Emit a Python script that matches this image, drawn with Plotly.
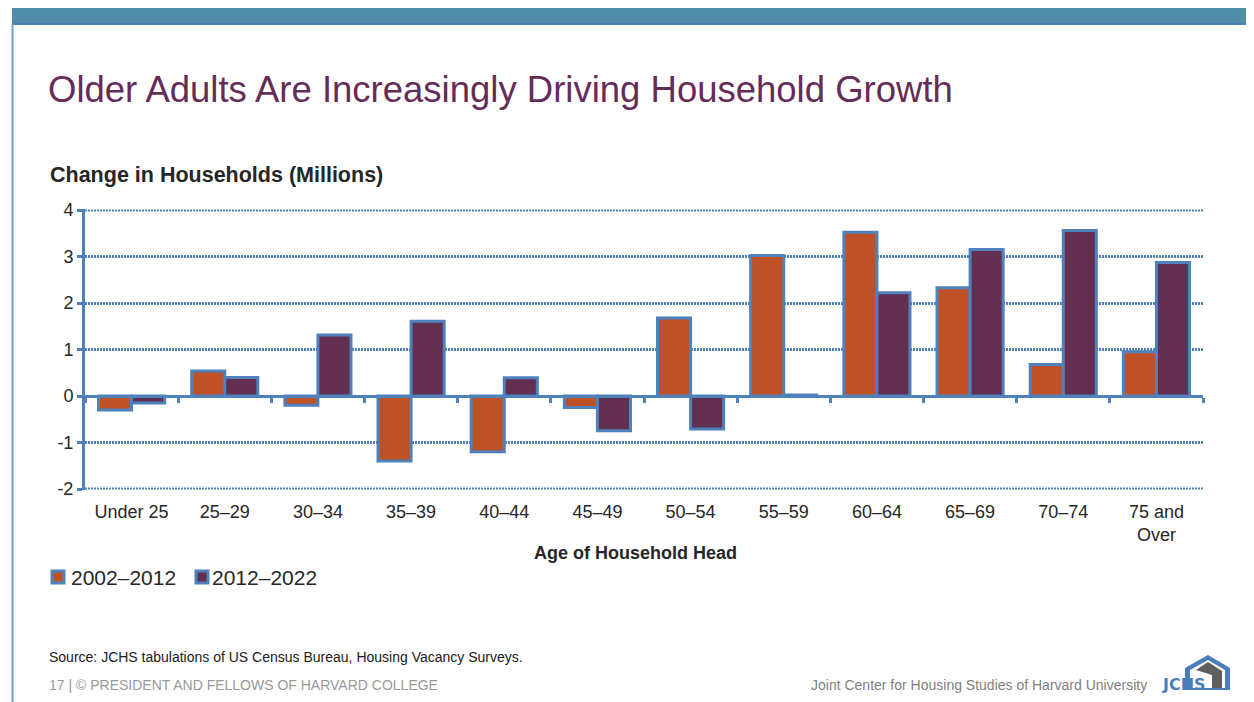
import plotly.graph_objects as go

W, H = 1254, 702
OFF = 8  # page offset of the figure in the browser

categories = ["Under 25", "25–29", "30–34", "35–39", "40–44", "45–49",
              "50–54", "55–59", "60–64", "65–69", "70–74", "75 and<br>Over"]
series_names = ["2002–2012", "2012–2022"]
values_2002_2012 = [-0.30, 0.54, -0.20, -1.40, -1.20, -0.25, 1.68, 3.02, 3.52, 2.33, 0.68, 0.95]
values_2012_2022 = [-0.15, 0.40, 1.31, 1.61, 0.39, -0.75, -0.71, 0.02, 2.22, 3.15, 3.56, 2.87]
y_ticks = [-2, -1, 0, 1, 2, 3, 4]
y_tick_text = ["-2", "-1", "0", "1", "2", "3", "4"]

ORANGE = "#BF5127"
PURPLE = "#632F50"
BLUE = "#4F81BD"
TXT = "#262626"
FONT = "Liberation Sans, Arial, sans-serif"


def px(x):
    return (x - OFF) / W


def py(y):
    return 1 - (y - OFF) / H


eps = 0.012
y_range = [-2 - eps, 4 + eps]
unit = (489 - 210) / 6.0
x_dom = [px(85), px(1203)]
y_dom = [py(489 + eps * unit), py(210 - eps * unit)]
zero_pos = y_dom[0] + (0 - y_range[0]) / (y_range[1] - y_range[0]) * (y_dom[1] - y_dom[0])

fig = go.Figure()
for name, vals, col in [(series_names[0], values_2002_2012, ORANGE),
                        (series_names[1], values_2012_2022, PURPLE)]:
    fig.add_trace(go.Bar(x=categories, y=vals, name=name,
                         marker=dict(color=col, line=dict(color=BLUE, width=3)),
                         showlegend=False))

# helper trace carrying the zero-line axis with boundary ticks
fig.add_trace(go.Scatter(x=categories, y=[None] * len(categories), xaxis="x2",
                         showlegend=False, hoverinfo="skip", mode="markers"))

GRID_W = 3
GRID_DASH = "2px,1px"

fig.update_layout(
    width=W, height=H,
    margin=dict(l=0, r=0, t=0, b=0, autoexpand=False),
    showlegend=False,
    paper_bgcolor="white", plot_bgcolor="white",
    barmode="group", bargap=0.29, bargroupgap=0,
    font=dict(family=FONT, color=TXT),
    xaxis=dict(domain=x_dom, anchor="y", showline=False, ticks="",
               showgrid=False, zeroline=False, automargin=False,
               range=[-0.5, len(categories) - 0.5], ticklabelstandoff=9,
               tickfont=dict(size=18, color=TXT, family=FONT),
               categoryorder="array", categoryarray=categories),
    xaxis2=dict(domain=x_dom, overlaying="x", anchor="free", position=zero_pos,
                showline=True, linecolor=BLUE, linewidth=3,
                ticks="outside", tickson="boundaries", ticklen=5,
                tickcolor=BLUE, tickwidth=3, showticklabels=False,
                showgrid=False, zeroline=False, automargin=False,
                categoryorder="array", categoryarray=categories,
                range=[-0.5, len(categories) - 0.5]),
    yaxis=dict(domain=y_dom, range=y_range, tickvals=y_ticks, ticktext=y_tick_text,
               showline=True, linecolor=BLUE, linewidth=3, automargin=False,
               ticks="outside", ticklen=5, tickcolor=BLUE, tickwidth=3,
               showgrid=True, gridcolor=BLUE, gridwidth=GRID_W, griddash=GRID_DASH,
               zeroline=True, zerolinecolor=BLUE, zerolinewidth=3,
               tickfont=dict(size=18, color=TXT, family=FONT)),
)

shapes = []
# gridlines at the axis extremes (plotly hides those at the plot edges)
for v in (y_ticks[0], y_ticks[-1]):
    shapes.append(dict(type="line", xref="x domain", yref="y", x0=0, x1=1, y0=v, y1=v,
                       line=dict(color=BLUE, width=GRID_W, dash=GRID_DASH), layer="below"))

# top banner
shapes.append(dict(type="rect", xref="paper", yref="paper",
                   x0=px(12), x1=px(1262), y0=py(24), y1=py(7),
                   fillcolor="#508DA6", line=dict(width=0)))
shapes.append(dict(type="line", xref="paper", yref="paper",
                   x0=px(12), x1=px(1262), y0=py(24), y1=py(24),
                   line=dict(color="#4A7EBB", width=2)))
# left vertical rule
shapes.append(dict(type="line", xref="paper", yref="paper",
                   x0=px(12.5), x1=px(12.5), y0=py(24), y1=py(710),
                   line=dict(color="#6F9CD4", width=2)))

# legend (manual)
legend_items = [(52, 72, series_names[0], ORANGE), (196, 213, series_names[1], PURPLE)]
annotations = []
for sx, tx, label, col in legend_items:
    shapes.append(dict(type="rect", xref="paper", yref="paper",
                       x0=px(sx), x1=px(sx + 12), y0=py(583), y1=py(571),
                       fillcolor=col, line=dict(color=BLUE, width=3)))
    annotations.append(dict(text=label, xref="paper", yref="paper", x=px(tx - 3), y=py(577),
                            xanchor="left", yanchor="middle", showarrow=False,
                            font=dict(size=21, color=TXT, family=FONT)))


def poly(points):
    return "M " + " L ".join("{} {}".format(px(a), py(b)) for a, b in points) + " Z"


# logo (JCHS house)
shapes.append(dict(type="path", xref="paper", yref="paper",
                   path=poly([(1185, 690), (1185, 668), (1208, 655), (1230, 668), (1230, 690)]),
                   fillcolor="#4A7EBB", line=dict(width=0)))
shapes.append(dict(type="path", xref="paper", yref="paper",
                   path=poly([(1190, 688), (1190, 670), (1208, 660), (1225, 670), (1225, 688)]),
                   fillcolor="white", line=dict(width=0)))
shapes.append(dict(type="path", xref="paper", yref="paper",
                   path=poly([(1196, 670), (1208, 662), (1222, 671), (1222, 688), (1212, 688), (1212, 675)]),
                   fillcolor="#5F5F5F", line=dict(width=0)))
annotations.append(dict(text="<b>JCHS</b>", xref="paper", yref="paper", x=px(1184), y=py(684),
                        xanchor="center", yanchor="middle", showarrow=False,
                        font=dict(size=16, color="#4A7EBB", family="DejaVu Sans")))

# texts
annotations += [
    dict(text="Older Adults Are Increasingly Driving Household Growth", xref="paper", yref="paper",
         x=px(46), y=py(90), xanchor="left", yanchor="middle", showarrow=False,
         font=dict(size=36.5, color="#652C57", family=FONT)),
    dict(text="<b>Change in Households (Millions)</b>", xref="paper", yref="paper",
         x=px(48), y=py(175), xanchor="left", yanchor="middle", showarrow=False,
         font=dict(size=21.5, color=TXT, family=FONT)),
    dict(text="<b>Age of Household Head</b>", xref="paper", yref="paper",
         x=px(635), y=py(553), xanchor="center", yanchor="middle", showarrow=False,
         font=dict(size=18, color=TXT, family=FONT)),
    dict(text="Source: JCHS tabulations of US Census Bureau, Housing Vacancy Surveys.", xref="paper",
         yref="paper", x=px(47), y=py(657), xanchor="left", yanchor="middle", showarrow=False,
         font=dict(size=14, color="#1a1a1a", family=FONT)),
    dict(text="17 | © PRESIDENT AND FELLOWS OF HARVARD COLLEGE", xref="paper", yref="paper",
         x=px(47), y=py(685), xanchor="left", yanchor="middle", showarrow=False,
         font=dict(size=14, color="#999999", family=FONT)),
    dict(text="Joint Center for Housing Studies of Harvard University", xref="paper", yref="paper",
         x=px(1149), y=py(685), xanchor="right", yanchor="middle", showarrow=False,
         font=dict(size=14, color="#7f7f7f", family=FONT)),
]

fig.update_layout(shapes=shapes, annotations=annotations)
fig.write_html("out.html")
